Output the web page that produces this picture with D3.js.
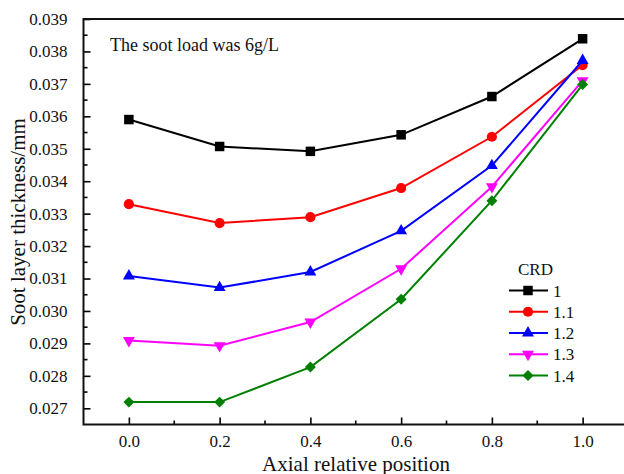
<!DOCTYPE html>
<html>
<head>
  <meta charset="utf-8">
  <title>Soot layer thickness</title>
  <style>
    body {
      margin: 0;
      background: #fff;
    }

    svg {
      font-family: "Liberation Serif", "Times New Roman", serif;
      display: block;
    }

    .tick-label {
      font-family: "Liberation Serif", "Times New Roman", serif;
      font-size: 17px;
      fill: #111;
    }

    .axis-title {
      font-size: 21px;
      fill: #111;
    }
  </style>
</head>

<body>
  <script src="https://d3js.org/d3.v7.min.js"></script>
  <script>
    // data
    const positions = [0.0, 0.2, 0.4, 0.6, 0.8, 1.0];
    const crdNames = ["1", "1.1", "1.2", "1.3", "1.4"];
    const crd1 = [0.03590, 0.03507, 0.03492, 0.03543, 0.03661, 0.03839];
    const crd11 = [0.03329, 0.03271, 0.03289, 0.03379, 0.03537, 0.03758];
    const crd12 = [0.03108, 0.03072, 0.03120, 0.03247, 0.03448, 0.03772];
    const crd13 = [0.02909, 0.02893, 0.02966, 0.03130, 0.03383, 0.03710];
    const crd14 = [0.02719, 0.02719, 0.02827, 0.03036, 0.03340, 0.03698];
    const seriesValues = [crd1, crd11, crd12, crd13, crd14];
    const colors = ["#000000", "#ff0000", "#0000ff", "#ff00ff", "#008000"];
    const xTicks = [0.0, 0.2, 0.4, 0.6, 0.8, 1.0];
    const yTicks = [0.027, 0.028, 0.029, 0.030, 0.031, 0.032, 0.033, 0.034, 0.035, 0.036, 0.037, 0.038, 0.039];

    const width = 624;
    const height = 474;
    const plot = { left: 83.5, right: 628, top: 19, bottom: 424.5 };

    const x = d3.scaleLinear().domain([-0.1, 1.1]).range([plot.left, plot.right]);
    const y = d3.scaleLinear().domain([0.0265, 0.039]).range([plot.bottom, plot.top]);

    const svg = d3.select("body")
      .append("svg")
      .attr("width", width)
      .attr("height", height);

    // minor ticks
    const xMinor = [0.1, 0.3, 0.5, 0.7, 0.9];
    const yMinor = d3.range(0.0275, 0.039, 0.001);

    svg.append("g").selectAll("line")
      .data(xMinor)
      .enter().append("line")
      .attr("x1", d => x(d)).attr("x2", d => x(d))
      .attr("y1", plot.bottom).attr("y2", plot.bottom - 4)
      .attr("stroke", "#000").attr("stroke-width", 1.6);

    svg.append("g").selectAll("line")
      .data(yMinor)
      .enter().append("line")
      .attr("x1", plot.left).attr("x2", plot.left + 4)
      .attr("y1", d => y(d)).attr("y2", d => y(d))
      .attr("stroke", "#000").attr("stroke-width", 1.6);

    // bottom axis, ticks point inward
    const xAxis = svg.append("g")
      .attr("transform", `translate(0,${plot.bottom})`)
      .call(d3.axisBottom(x).tickValues(xTicks).tickFormat(d3.format(".1f"))
        .tickSizeInner(-7).tickSizeOuter(0).tickPadding(10));
    xAxis.select(".domain").remove();
    xAxis.selectAll(".tick line").attr("stroke", "#000").attr("stroke-width", 1.6);
    xAxis.selectAll(".tick text").attr("class", "tick-label");
    xAxis.attr("font-size", null).attr("font-family", null);

    // left axis, ticks point inward
    const yAxis = svg.append("g")
      .attr("transform", `translate(${plot.left},0)`)
      .call(d3.axisLeft(y).tickValues(yTicks).tickFormat(d3.format(".3f"))
        .tickSizeInner(-7).tickSizeOuter(0).tickPadding(16));
    yAxis.select(".domain").remove();
    yAxis.selectAll(".tick line").attr("stroke", "#000").attr("stroke-width", 1.6);
    yAxis.selectAll(".tick text").attr("class", "tick-label");
    yAxis.attr("font-size", null).attr("font-family", null);

    // frame
    svg.append("rect")
      .attr("x", plot.left).attr("y", plot.top)
      .attr("width", plot.right - plot.left).attr("height", plot.bottom - plot.top)
      .attr("fill", "none").attr("stroke", "#111").attr("stroke-width", 2);

    const symbols = [
      { type: d3.symbolSquare, size: 90, rot: 0 },
      { type: d3.symbolCircle, size: 82, rot: 0 },
      { type: d3.symbolTriangle, size: 62, rot: 0 },
      { type: d3.symbolTriangle, size: 62, rot: 180 },
      { type: d3.symbolSquare, size: 60, rot: 45 }
    ];

    const line = d3.line()
      .x((d, i) => x(positions[i]))
      .y(d => y(d));

    seriesValues.forEach((vals, s) => {
      const g = svg.append("g");
      g.append("path")
        .datum(vals)
        .attr("d", line)
        .attr("fill", "none")
        .attr("stroke", colors[s])
        .attr("stroke-width", 2);
      g.selectAll("path.pt")
        .data(vals)
        .enter().append("path")
        .attr("class", "pt")
        .attr("d", d3.symbol().type(symbols[s].type).size(symbols[s].size))
        .attr("transform", (d, i) => `translate(${x(positions[i])},${y(d)}) rotate(${symbols[s].rot})`)
        .attr("fill", colors[s]);
    });

    // annotation
    svg.append("text")
      .attr("x", 110).attr("y", 51)
      .attr("font-size", 18)
      .attr("fill", "#111")
      .text("The soot load was 6g/L");

    // legend
    const legend = svg.append("g");
    legend.append("text")
      .attr("x", 518).attr("y", 275)
      .attr("font-size", 17).attr("fill", "#111")
      .text("CRD");
    crdNames.forEach((name, s) => {
      const ly = 290.5 + s * 21.25;
      legend.append("line")
        .attr("x1", 509).attr("x2", 548)
        .attr("y1", ly).attr("y2", ly)
        .attr("stroke", colors[s]).attr("stroke-width", 2);
      legend.append("path")
        .attr("d", d3.symbol().type(symbols[s].type).size(symbols[s].size))
        .attr("transform", `translate(528,${ly}) rotate(${symbols[s].rot})`)
        .attr("fill", colors[s]);
      legend.append("text")
        .attr("x", 553).attr("y", ly + 6)
        .attr("font-size", 17).attr("fill", "#111")
        .text(name);
    });

    // axis titles
    svg.append("text")
      .attr("class", "axis-title")
      .attr("text-anchor", "middle")
      .attr("x", 356).attr("y", 470.5)
      .text("Axial relative position");

    svg.append("text")
      .attr("class", "axis-title")
      .attr("text-anchor", "middle")
      .attr("transform", "translate(25,222) rotate(-90)")
      .text("Soot layer thickness/mm");
  </script>
</body>
</html>
